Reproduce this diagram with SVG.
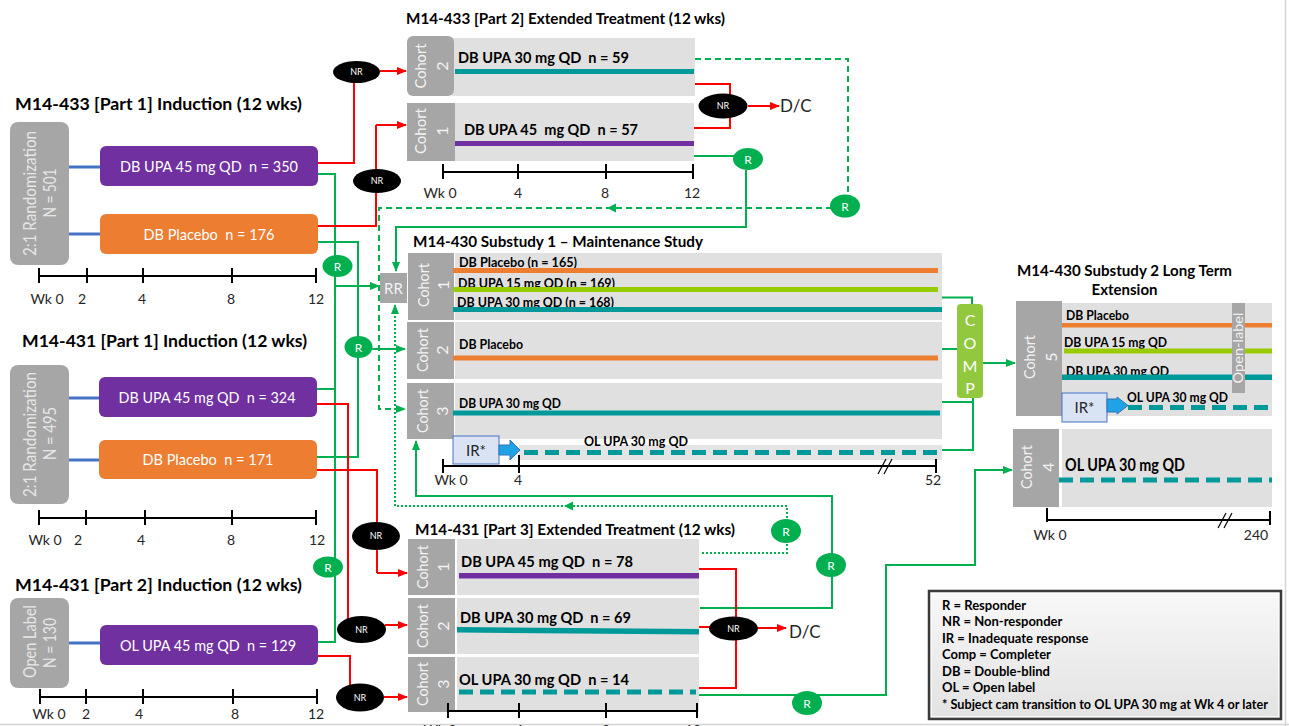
<svg xmlns="http://www.w3.org/2000/svg" width="1289" height="726" viewBox="0 0 1289 726">
<defs>
<marker id="ar" markerWidth="10" markerHeight="10" refX="9" refY="5" orient="auto" markerUnits="userSpaceOnUse"><path d="M0,1 L10,5 L0,9 z" fill="#ff0000"/></marker>
<marker id="ag" markerWidth="10" markerHeight="10" refX="9" refY="5" orient="auto" markerUnits="userSpaceOnUse"><path d="M0,1 L10,5 L0,9 z" fill="#00b050"/></marker>
<linearGradient id="lg" x1="0" y1="0" x2="0" y2="1"><stop offset="0" stop-color="#f8f8f8"/><stop offset="1" stop-color="#e2e2e2"/></linearGradient>
</defs>
<style>
text{font-family:Lato,"Liberation Sans",sans-serif}
.t{font-weight:bold;font-size:17px;fill:#000}
.h{font-weight:bold;font-size:15px;fill:#000}
.bx{font-size:15px;fill:#fff;text-anchor:middle}
.lb{fill:#a6a6a6}
.pn{fill:#e0e0e0}
.lt{font-size:16px;fill:#f2f2f2;text-anchor:middle}
.rt2{font-size:17px;fill:#e6e6e6;text-anchor:middle}
.ax{stroke:#000;stroke-width:2;fill:none}
.al{font-size:14px;fill:#262626;text-anchor:middle}
.r{stroke:#ff0000;stroke-width:2;fill:none}
.g{stroke:#00b050;stroke-width:2;fill:none}
.gd{stroke-dasharray:6,4}
.gt{stroke-dasharray:2,2}
.nrt{font-size:9px;fill:#fff;text-anchor:middle}
.rc{fill:#00b050}
.rt{font-size:12px;fill:#fff;text-anchor:middle}
.bl{stroke:#4472c4;stroke-width:3}
.pt{font-weight:bold;font-size:15px;fill:#000}
.st{font-weight:bold;font-size:12.5px;fill:#000}
.lg{font-weight:bold;font-size:13px;fill:#000}
.dc{font-size:17px;fill:#262626}
.pu{fill:#7030a0}
.or{fill:#ed7d31}
.tl{fill:#00999a}
.lgn{fill:#99cc00}
.dt{stroke:#00999a;stroke-width:5;stroke-dasharray:14,7;fill:none}
</style>

<!-- frame lines -->
<path d="M0,724.5 H1289 M1285.5,0 V726" stroke="#d4d4d4" stroke-width="1.5" fill="none"/>

<!-- ================= CONNECTORS ================= -->
<g id="connectors">
  <!-- blue randomization links -->
  <path class="bl" d="M69,167 H100 M69,234 H100 M69,398 H99 M69,460 H99 M69,643 H100"/>
  <!-- green responder lines from inductions -->
  <path class="g" d="M318,174 H335 V642 H318 M317,389 H335"/>
  <path class="g" d="M335,286 H379" marker-end="url(#ag)"/>
  <path class="g" d="M318,242 H358 V457 H317"/>
  <path class="g" d="M358,349 H405" marker-end="url(#ag)"/>
  <!-- part 2 cohort 1 R to RR -->
  <path class="g" d="M693,156 H735"/>
  <path class="g" d="M746,170 V227 H396 V271" marker-end="url(#ag)"/>
  <!-- part 2 cohort 2 dashed R to substudy1 cohort 3 -->
  <path class="g gd" d="M695,59 H848 V195"/>
  <path class="g gd" d="M832,208 H379 V409 H405" marker-end="url(#ag)"/>
  <path d="M607,208 L616,203.5 L616,212.5 z" fill="#00b050"/>
  <!-- part 3 cohort 1 dotted to RR -->
  <path class="g gt" d="M702,553 H787 V506 H395 V305" marker-end="url(#ag)"/>
  <path d="M564,506 L573,501.5 L573,510.5 z" fill="#00b050"/>
  <!-- part 3 cohort 2 to substudy1 cohort 3 -->
  <path class="g" d="M700,608 H832 V496 H416 V441" marker-end="url(#ag)"/>
  <!-- part 3 cohort 3 to cohort 4 -->
  <path class="g" d="M699,695 H886 V565 H975 V470 H1012" marker-end="url(#ag)"/>
  <!-- completers to COMP -->
  <path class="g" d="M942,297.5 H972 V304 M942,349 H959 M942,402 H973 M942,450 H973 V398"/>
  <path class="g" d="M983,363 H1015" marker-end="url(#ag)"/>

  <!-- red non-responder lines -->
  <path class="r" d="M318,163 H354 V82"/>
  <path class="r" d="M380,71 H406" marker-end="url(#ar)"/>
  <path class="r" d="M318,226 H376 V192 M376,170 V125"/>
  <path class="r" d="M376,125 H406" marker-end="url(#ar)"/>
  <path class="r" d="M695,84 H730 V128 H693"/>
  <path class="r" d="M748,106 H779" marker-end="url(#ar)"/>
  <path class="r" d="M317,404 H348 V620"/>
  <path class="r" d="M385,625 H407" marker-end="url(#ar)"/>
  <path class="r" d="M317,470 H377 V523 M377,549 V573"/>
  <path class="r" d="M377,573 H407" marker-end="url(#ar)"/>
  <path class="r" d="M318,656 H350 V686"/>
  <path class="r" d="M384,697 H407" marker-end="url(#ar)"/>
  <path class="r" d="M699,569 H736 V688 H699 M699,627 H712"/>
  <path class="r" d="M757,628 H786" marker-end="url(#ar)"/>
</g>

<!-- ================= M14-433 PART 1 ================= -->
<g id="m433-p1">
  <text class="t" x="15" y="110" textLength="287" lengthAdjust="spacingAndGlyphs">M14-433 [Part 1] Induction (12 wks)</text>
  <rect class="lb" x="10" y="122" width="59" height="143" rx="8"/>
  <text class="rt2" transform="translate(30,193.5) rotate(-90)" y="6" textLength="125" lengthAdjust="spacingAndGlyphs">2:1 Randomization</text>
  <text class="rt2" transform="translate(50,193) rotate(-90)" y="6" textLength="49" lengthAdjust="spacingAndGlyphs">N = 501</text>
</g>
<g id="m433-p1-upa">
  <rect class="pu" x="100" y="146" width="218" height="40" rx="6"/>
  <text class="bx" x="209" y="172" xml:space="preserve" textLength="178" lengthAdjust="spacingAndGlyphs">DB UPA 45 mg QD  n = 350</text>
</g>
<g id="m433-p1-pbo">
  <rect class="or" x="100" y="214" width="218" height="40" rx="6"/>
  <text class="bx" x="209" y="240" xml:space="preserve" textLength="131" lengthAdjust="spacingAndGlyphs">DB Placebo  n = 176</text>
</g>
<g id="m433-p1-axis">
  <path class="ax" d="M39,276 H316 M39,268 V283 M87,268 V283 M143,268 V283 M232,268 V283 M316,268 V283"/>
  <text class="al" x="47" y="304">Wk 0</text><text class="al" x="82" y="304">2</text><text class="al" x="142" y="304">4</text><text class="al" x="231" y="304">8</text><text class="al" x="316" y="304">12</text>
</g>

<!-- ================= M14-431 PART 1 ================= -->
<g id="m431-p1">
  <text class="t" x="22" y="347" textLength="285" lengthAdjust="spacingAndGlyphs">M14-431 [Part 1] Induction (12 wks)</text>
  <rect class="lb" x="10" y="365" width="59" height="139" rx="8"/>
  <text class="rt2" transform="translate(30,434.5) rotate(-90)" y="6" textLength="125" lengthAdjust="spacingAndGlyphs">2:1 Randomization</text>
  <text class="rt2" transform="translate(50,433.5) rotate(-90)" y="6" textLength="53" lengthAdjust="spacingAndGlyphs">N = 495</text>
</g>
<g id="m431-p1-upa">
  <rect class="pu" x="99" y="377" width="218" height="40" rx="6"/>
  <text class="bx" x="207" y="403" xml:space="preserve" textLength="177" lengthAdjust="spacingAndGlyphs">DB UPA 45 mg QD  n = 324</text>
</g>
<g id="m431-p1-pbo">
  <rect class="or" x="99" y="440" width="218" height="39" rx="6"/>
  <text class="bx" x="208" y="465" xml:space="preserve" textLength="131" lengthAdjust="spacingAndGlyphs">DB Placebo  n = 171</text>
</g>
<g id="m431-p1-axis">
  <path class="ax" d="M39,518 H316 M39,510 V525 M86,510 V525 M145,510 V525 M232,510 V525 M316,510 V525"/>
  <text class="al" x="45" y="545">Wk 0</text><text class="al" x="78" y="545">2</text><text class="al" x="141" y="545">4</text><text class="al" x="231" y="545">8</text><text class="al" x="317" y="545">12</text>
</g>

<!-- ================= M14-431 PART 2 ================= -->
<g id="m431-p2">
  <text class="t" x="15" y="591" textLength="287" lengthAdjust="spacingAndGlyphs">M14-431 [Part 2] Induction (12 wks)</text>
  <rect class="lb" x="10" y="598" width="59" height="90" rx="8"/>
  <text class="rt2" transform="translate(30,641.5) rotate(-90)" y="6" textLength="73" lengthAdjust="spacingAndGlyphs">Open Label</text>
  <text class="rt2" transform="translate(50,643) rotate(-90)" y="6" textLength="50" lengthAdjust="spacingAndGlyphs">N = 130</text>
</g>
<g id="m431-p2-ol">
  <rect class="pu" x="100" y="625" width="218" height="40" rx="6"/>
  <text class="bx" x="208" y="651" xml:space="preserve" textLength="176" lengthAdjust="spacingAndGlyphs">OL UPA 45 mg QD  n = 129</text>
</g>
<g id="m431-p2-axis">
  <path class="ax" d="M40,697 H317 M40,689 V704 M86,689 V704 M143,689 V704 M233,689 V704 M317,689 V704"/>
  <text class="al" x="49" y="719">Wk 0</text><text class="al" x="86" y="719">2</text><text class="al" x="139" y="719">4</text><text class="al" x="235" y="719">8</text><text class="al" x="316" y="719">12</text>
</g>

<!-- ================= M14-433 PART 2 ================= -->
<g id="m433-p2">
  <text class="h" x="406" y="24" textLength="319" lengthAdjust="spacingAndGlyphs">M14-433 [Part 2] Extended Treatment (12 wks)</text>
</g>
<g id="m433-p2-c2">
  <rect class="pn" x="452" y="38" width="243" height="58"/>
  <rect class="lb" x="407" y="36" width="47" height="60" rx="6"/>
  <text class="lt" transform="translate(420,66) rotate(-90)" y="6" textLength="45" lengthAdjust="spacingAndGlyphs">Cohort</text>
  <text class="lt" transform="translate(442,66) rotate(-90)" y="6">2</text>
  <text class="pt" x="458" y="63" xml:space="preserve" textLength="171" lengthAdjust="spacingAndGlyphs">DB UPA 30 mg QD  n = 59</text>
  <rect class="tl" x="455" y="69" width="239" height="5"/>
</g>
<g id="m433-p2-c1">
  <rect class="pn" x="455" y="103" width="239" height="58"/>
  <rect class="lb" x="407" y="103" width="48" height="58"/>
  <text class="lt" transform="translate(420,131) rotate(-90)" y="6" textLength="46" lengthAdjust="spacingAndGlyphs">Cohort</text>
  <text class="lt" transform="translate(442,131) rotate(-90)" y="6">1</text>
  <text class="pt" x="464" y="135" xml:space="preserve" textLength="174" lengthAdjust="spacingAndGlyphs">DB UPA 45  mg QD  n = 57</text>
  <rect class="pu" x="455" y="141" width="239" height="5"/>
</g>
<g id="m433-p2-axis">
  <path class="ax" d="M443,172 H693 M443,164 V179 M518,164 V179 M606,164 V179 M693,164 V179"/>
  <text class="al" x="440" y="198">Wk 0</text><text class="al" x="518" y="198">4</text><text class="al" x="605" y="198">8</text><text class="al" x="692" y="198">12</text>
</g>

<!-- ================= SUBSTUDY 1 ================= -->
<g id="ss1">
  <text class="h" x="413" y="247" textLength="290" lengthAdjust="spacingAndGlyphs">M14-430 Substudy 1 – Maintenance Study</text>
</g>
<g id="rr">
  <rect class="lb" x="380" y="273" width="27" height="30"/>
  <text x="393.5" y="294" font-size="15" fill="#f2f2f2" text-anchor="middle">RR</text>
</g>
<g id="ss1-c1">
  <rect class="pn" x="455" y="253" width="487" height="67"/>
  <rect class="lb" x="408" y="253" width="46" height="67"/>
  <text class="lt" transform="translate(423,285) rotate(-90)" y="6" textLength="44" lengthAdjust="spacingAndGlyphs">Cohort</text>
  <text class="lt" transform="translate(443,285) rotate(-90)" y="6">1</text>
  <text class="st" x="459" y="267" textLength="118" lengthAdjust="spacingAndGlyphs">DB Placebo (n = 165)</text>
  <rect class="or" x="453" y="268" width="485" height="5"/>
  <text class="st" x="458" y="288" textLength="157" lengthAdjust="spacingAndGlyphs">DB UPA 15 mg QD (n = 169)</text>
  <rect class="lgn" x="453" y="287" width="485" height="5"/>
  <text class="st" x="457" y="307" textLength="157" lengthAdjust="spacingAndGlyphs">DB UPA 30 mg QD (n = 168)</text>
  <rect class="tl" x="453" y="307" width="489" height="5"/>
</g>
<g id="ss1-c2">
  <rect class="pn" x="455" y="322" width="487" height="57"/>
  <rect class="lb" x="407" y="322" width="47" height="57"/>
  <text class="lt" transform="translate(422,350) rotate(-90)" y="6" textLength="44" lengthAdjust="spacingAndGlyphs">Cohort</text>
  <text class="lt" transform="translate(442,350) rotate(-90)" y="6">2</text>
  <text class="st" x="459" y="349" textLength="64" lengthAdjust="spacingAndGlyphs">DB Placebo</text>
  <rect class="or" x="453" y="355.5" width="485" height="5"/>
</g>
<g id="ss1-c3">
  <rect class="pn" x="455" y="383" width="487" height="56"/>
  <rect class="lb" x="407" y="383" width="47" height="56"/>
  <text class="lt" transform="translate(422,411) rotate(-90)" y="6" textLength="44" lengthAdjust="spacingAndGlyphs">Cohort</text>
  <text class="lt" transform="translate(442,411) rotate(-90)" y="6">3</text>
  <text class="st" x="459" y="408" textLength="102" lengthAdjust="spacingAndGlyphs">DB UPA 30 mg QD</text>
  <rect class="tl" x="453" y="410.5" width="487" height="5"/>
</g>
<g id="ss1-ir">
  <rect x="519" y="445" width="423" height="15" fill="#e4e4e4"/>
  <rect x="453" y="436" width="46" height="28" fill="#dae3f3" stroke="#4472c4" stroke-width="1"/>
  <text x="476" y="456" font-size="15" fill="#262626" text-anchor="middle">IR*</text>
  <path d="M499,445 H510 V440 L520,450 L510,460 V455 H499 z" fill="#1fa3e6" stroke="#2e75b6" stroke-width="1"/>
  <text class="st" x="584" y="446" textLength="104" lengthAdjust="spacingAndGlyphs">OL UPA 30 mg QD</text>
  <path class="dt" d="M524,452.5 H940"/>
</g>
<g id="ss1-axis">
  <path class="ax" d="M443,466 H936 M443,459 V473 M519,455 V473 M936,459 V473"/>
  <path d="M878,474 L886,459 M884,474 L892,459" stroke="#000" stroke-width="1.2"/>
  <text class="al" x="451" y="485">Wk 0</text><text class="al" x="518" y="485">4</text><text class="al" x="933" y="485">52</text>
</g>

<!-- ================= COMP ================= -->
<g id="comp">
  <rect x="957" y="304" width="26" height="94" rx="4" fill="#92c83e"/>
  <text x="970" y="326" font-size="16" fill="#fff" text-anchor="middle">C</text>
  <text x="970" y="349" font-size="16" fill="#fff" text-anchor="middle">O</text>
  <text x="970" y="372" font-size="16" fill="#fff" text-anchor="middle">M</text>
  <text x="970" y="394" font-size="16" fill="#fff" text-anchor="middle">P</text>
</g>

<!-- ================= SUBSTUDY 2 ================= -->
<g id="ss2">
  <text class="h" x="1124.5" y="276" text-anchor="middle" textLength="215" lengthAdjust="spacingAndGlyphs">M14-430 Substudy 2 Long Term</text>
  <text class="h" x="1124.5" y="295" text-anchor="middle" textLength="66" lengthAdjust="spacingAndGlyphs">Extension</text>
</g>
<g id="ss2-c5">
  <rect class="pn" x="1062" y="303" width="210" height="113"/>
  <rect class="lb" x="1016" y="301" width="46" height="115"/>
  <text class="lt" transform="translate(1029,357) rotate(-90)" y="6" textLength="44" lengthAdjust="spacingAndGlyphs">Cohort</text>
  <text class="lt" transform="translate(1051,357) rotate(-90)" y="6">5</text>
  <text class="st" x="1066" y="320" textLength="63" lengthAdjust="spacingAndGlyphs">DB Placebo</text>
  <rect class="or" x="1062" y="323" width="210" height="4.5"/>
  <text class="st" x="1064" y="347" textLength="103" lengthAdjust="spacingAndGlyphs">DB UPA 15 mg QD</text>
  <rect class="lgn" x="1064" y="348.5" width="208" height="5"/>
  <text class="st" x="1066" y="376" textLength="103" lengthAdjust="spacingAndGlyphs">DB UPA 30 mg QD</text>
  <rect class="tl" x="1062" y="374.5" width="210" height="5.5"/>
  <rect x="1062" y="393" width="45" height="29" fill="#dae3f3" stroke="#4472c4" stroke-width="1"/>
  <text x="1084.5" y="413" font-size="15" fill="#262626" text-anchor="middle">IR*</text>
  <path d="M1107,399 H1117 V397 L1128,405.5 L1117,414 V412 H1107 z" fill="#1fa3e6" stroke="#2e75b6" stroke-width="1"/>
  <text class="st" x="1127" y="402" textLength="101" lengthAdjust="spacingAndGlyphs">OL UPA 30 mg QD</text>
  <path class="dt" d="M1128,407.5 H1272"/>
  <rect class="lb" x="1232" y="303" width="13" height="90"/>
  <text transform="translate(1238.5,348) rotate(-90)" y="4.5" font-size="13" fill="#f2f2f2" text-anchor="middle" textLength="71" lengthAdjust="spacingAndGlyphs">Open-label</text>
</g>
<g id="ss2-c4">
  <rect class="pn" x="1062" y="429" width="210" height="78"/>
  <rect class="lb" x="1013" y="429" width="46" height="78"/>
  <text class="lt" transform="translate(1026,467) rotate(-90)" y="6" textLength="44" lengthAdjust="spacingAndGlyphs">Cohort</text>
  <text class="lt" transform="translate(1048,467) rotate(-90)" y="6">4</text>
  <text x="1065" y="471" font-size="16.5" font-weight="bold" fill="#000" textLength="120" lengthAdjust="spacingAndGlyphs">OL UPA 30 mg QD</text>
  <path class="dt" d="M1059,480 H1272"/>
</g>
<g id="ss2-axis">
  <path class="ax" d="M1047,520 H1270 M1047,508 V522 M1270,511 V525"/>
  <path d="M1218,528 L1226,513 M1224,528 L1232,513" stroke="#000" stroke-width="1.2"/>
  <text class="al" x="1050" y="540">Wk 0</text><text class="al" x="1256" y="540">240</text>
</g>

<!-- ================= M14-431 PART 3 ================= -->
<g id="m431-p3">
  <text class="h" x="415" y="535" textLength="320" lengthAdjust="spacingAndGlyphs">M14-431 [Part 3] Extended Treatment (12 wks)</text>
</g>
<g id="m431-p3-c1">
  <rect class="pn" x="457" y="539" width="242" height="56"/>
  <rect class="lb" x="408" y="539" width="47" height="56"/>
  <text class="lt" transform="translate(422,567) rotate(-90)" y="6" textLength="44" lengthAdjust="spacingAndGlyphs">Cohort</text>
  <text class="lt" transform="translate(443,567) rotate(-90)" y="6">1</text>
  <text class="pt" x="461" y="567" xml:space="preserve" textLength="172" lengthAdjust="spacingAndGlyphs">DB UPA 45 mg QD  n = 78</text>
  <rect class="pu" x="459" y="573" width="240" height="5.5"/>
</g>
<g id="m431-p3-c2">
  <rect class="pn" x="457" y="598" width="242" height="56"/>
  <rect class="lb" x="408" y="598" width="47" height="56"/>
  <text class="lt" transform="translate(422,626) rotate(-90)" y="6" textLength="44" lengthAdjust="spacingAndGlyphs">Cohort</text>
  <text class="lt" transform="translate(443,626) rotate(-90)" y="6">2</text>
  <text class="pt" x="460" y="623" xml:space="preserve" textLength="171" lengthAdjust="spacingAndGlyphs">DB UPA 30 mg QD  n = 69</text>
  <path d="M457,627 L699,629 L699,634.5 L457,632.5 z" class="tl"/>
</g>
<g id="m431-p3-c3">
  <rect class="pn" x="457" y="657" width="242" height="55"/>
  <rect class="lb" x="408" y="657" width="47" height="55"/>
  <text class="lt" transform="translate(422,684) rotate(-90)" y="6" textLength="44" lengthAdjust="spacingAndGlyphs">Cohort</text>
  <text class="lt" transform="translate(443,684) rotate(-90)" y="6">3</text>
  <text class="pt" x="459" y="685" xml:space="preserve" textLength="170" lengthAdjust="spacingAndGlyphs">OL UPA 30 mg QD  n = 14</text>
  <path class="dt" d="M459,692 H696"/>
</g>
<g id="m431-p3-axis">
  <path class="ax" d="M448,711 H697 M448,703 V718 M519,703 V718 M606,703 V718 M697,703 V718"/>
  <text class="al" x="440" y="735">Wk 0</text><text class="al" x="519" y="735">4</text><text class="al" x="606" y="735">8</text><text class="al" x="693" y="735">12</text>
</g>

<!-- ================= NR nodes ================= -->
<g id="nr1"><ellipse cx="356.5" cy="72" rx="23.5" ry="11"/><text class="nrt" x="356.5" y="75">NR</text></g>
<g id="nr2"><ellipse cx="377" cy="181" rx="24" ry="12"/><text class="nrt" x="377" y="184">NR</text></g>
<g id="nr3"><ellipse cx="723" cy="106" rx="24.5" ry="12.5"/><text class="nrt" x="723" y="109">NR</text></g>
<g id="nr4"><ellipse cx="376" cy="536" rx="24" ry="14"/><text class="nrt" x="376" y="539">NR</text></g>
<g id="nr5"><ellipse cx="361.5" cy="629.5" rx="24.5" ry="13.5"/><text class="nrt" x="361.5" y="632.5">NR</text></g>
<g id="nr6"><ellipse cx="360" cy="697.5" rx="24" ry="14"/><text class="nrt" x="360" y="700.5">NR</text></g>
<g id="nr7"><ellipse cx="733.5" cy="628.5" rx="24.5" ry="12"/><text class="nrt" x="733.5" y="631.5">NR</text></g>

<!-- ================= R nodes ================= -->
<g id="r1"><ellipse class="rc" cx="337.5" cy="266" rx="15" ry="11"/><text class="rt" x="337.5" y="270.5">R</text></g>
<g id="r2"><ellipse class="rc" cx="358.5" cy="347" rx="14" ry="11"/><text class="rt" x="358.5" y="351.5">R</text></g>
<g id="r3"><ellipse class="rc" cx="748" cy="159" rx="15" ry="11"/><text class="rt" x="748" y="163.5">R</text></g>
<g id="r4"><ellipse class="rc" cx="845" cy="206" rx="15" ry="11.5"/><text class="rt" x="845" y="210.5">R</text></g>
<g id="r5"><ellipse class="rc" cx="786" cy="531" rx="15" ry="12"/><text class="rt" x="786" y="535.5">R</text></g>
<g id="r6"><ellipse class="rc" cx="831" cy="565" rx="15" ry="12"/><text class="rt" x="831" y="569.5">R</text></g>
<g id="r7"><ellipse class="rc" cx="807" cy="703" rx="15" ry="12"/><text class="rt" x="807" y="707.5">R</text></g>
<g id="r8"><ellipse class="rc" cx="328" cy="567" rx="15" ry="10.5"/><text class="rt" x="328" y="571.5">R</text></g>

<!-- D/C -->
<g id="dc1"><text class="dc" x="780" y="112">D/C</text></g>
<g id="dc2"><text class="dc" x="789" y="638">D/C</text></g>

<!-- ================= LEGEND ================= -->
<g id="legend">
  <rect x="929" y="591" width="352" height="128" fill="url(#lg)" stroke="#3a3a3a" stroke-width="2.5"/>
  <rect x="931.5" y="593.5" width="347" height="123" fill="none" stroke="#ffffff" stroke-width="1" opacity="0.7"/>
  <text class="lg" x="942" y="610">R = Responder</text>
  <text class="lg" x="942" y="626">NR = Non-responder</text>
  <text class="lg" x="942" y="642.5">IR = Inadequate response</text>
  <text class="lg" x="942" y="659">Comp = Completer</text>
  <text class="lg" x="942" y="675.5">DB = Double-blind</text>
  <text class="lg" x="942" y="692">OL = Open label</text>
  <text class="lg" x="942" y="708.5" textLength="326" lengthAdjust="spacingAndGlyphs">* Subject cam transition to OL UPA 30 mg at Wk 4 or later</text>
</g>
</svg>
